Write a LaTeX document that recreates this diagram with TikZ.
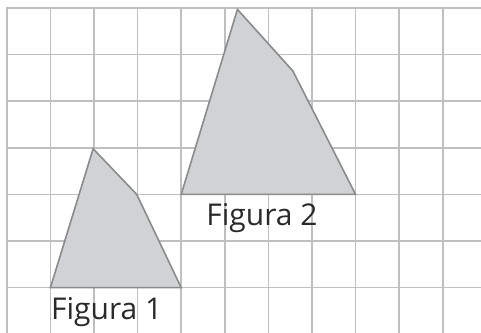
\documentclass[tikz,border=0pt]{standalone}
\usepackage{fontspec}
\setmainfont{Open Sans}
\definecolor{gridgray}{HTML}{BEBFC1}
\definecolor{shapefill}{HTML}{D1D2D4}
\definecolor{shapeline}{HTML}{8A8B8D}
\definecolor{labeltext}{HTML}{2A2A2A}
\begin{document}
\begin{tikzpicture}[x=43.6pt,y=-46.6pt,
  gridline/.style={draw=gridgray,line width=1.6pt},
  figshape/.style={fill=shapefill,draw=shapeline,line width=1.6pt,line join=miter},
  figlabel/.style={anchor=base,inner sep=0pt,text=labeltext,font=\fontsize{30}{36}\selectfont}]
\useasboundingbox (-0.156,-0.1717) rectangle (10.876,6.974);
% grid
\foreach \i in {0,...,10} \draw[gridline] (\i,0) -- (\i,6.99);
\foreach \j in {0,...,6} \draw[gridline] (-0.018,\j) -- (10.9,\j);
% figure 1
\coordinate (a1) at (1,6);
\coordinate (b1) at (4,6);
\coordinate (c1) at (2.98,4);
\coordinate (d1) at (1.98,3.02);
\draw[figshape] (a1) -- (b1) -- (c1) -- (d1) -- cycle;
% figure 2
\coordinate (a2) at (4,4);
\coordinate (b2) at (8,4);
\coordinate (c2) at (6.56,1.35);
\coordinate (d2) at (5.29,0.03);
\draw[figshape] (a2) -- (b2) -- (c2) -- (d2) -- cycle;
% labels
\node[figlabel] (fig1) at (2.292,6.695) {Figura 1};
\node[figlabel] (fig2) at (5.853,4.657) {Figura 2};
\end{tikzpicture}
\end{document}
